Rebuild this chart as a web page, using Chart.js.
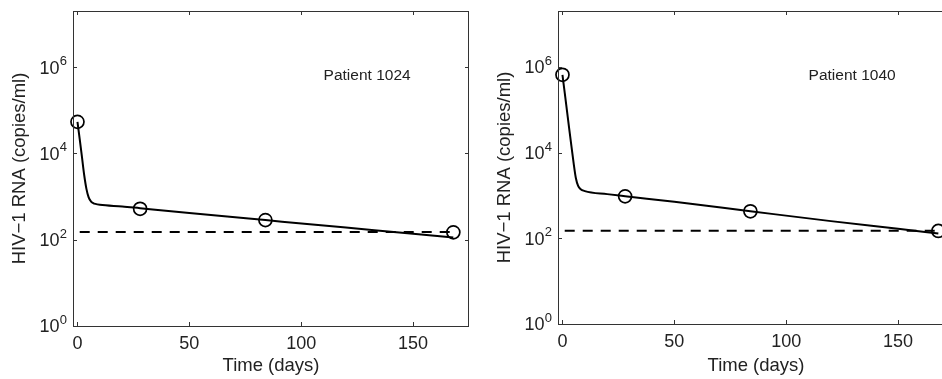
<!DOCTYPE html>
<html>
<head>
<meta charset="utf-8">
<script src="https://cdn.jsdelivr.net/npm/chart.js@4.4.1/dist/chart.umd.min.js"></script>
<style>
  html, body { margin: 0; padding: 0; background: #fff; }
  body { width: 942px; height: 379px; overflow: hidden; position: relative; }
  .panel { position: absolute; top: 0; width: 480px; height: 379px; }
</style>
</head>
<body>
<div class="panel" style="left:0px"><canvas id="chart1024"></canvas></div>
<div class="panel" style="left:485px"><canvas id="chart1040"></canvas></div>
<script>
// model fit curves (copies/ml)
const fitDays = [0, 1, 2, 3, 4, 5, 6, 7, 8, 10, 20, 28, 50, 84, 120, 150, 168];
const fit1024 = [54000, 21400, 8300, 3160, 1510, 955, 776, 708, 676, 646, 589, 537, 417, 285, 191, 138, 112];
const fit1040 = [646000, 251000, 95500, 36300, 14100, 5600, 2510, 1660, 1410, 1260, 1070, 955, 708, 427, 251, 166, 129];

// measured viral loads
const obsDays = [0, 28, 84, 168];
const obs1024 = [54000, 520, 285, 148];
const obs1040 = [650000, 950, 425, 148];

// detection limit (dashed line)
const limitDays = [1, 167];
const limitValue = 150;

const xTickValues = [0, 50, 100, 150];
const yTickValues = [1, 100, 10000, 1000000];
const yTickExp = ['0', '2', '4', '6'];

const FONT = '"Liberation Sans", Arial, Helvetica, sans-serif';

// MATLAB-like box, inside ticks, 10^n labels, y title and patient tag
const boxPlugin = {
  id: 'box',
  afterDraw(chart, args, opts) {
    const ctx = chart.ctx;
    const a = chart.chartArea;
    const x = chart.scales.x, y = chart.scales.y;
    ctx.save();
    ctx.strokeStyle = '#333';
    ctx.lineWidth = 1;
    ctx.strokeRect(a.left + 0.5, a.top + 0.5, a.right - a.left - 1, a.bottom - a.top);

    ctx.beginPath();
    xTickValues.forEach(function (v) {
      const px = Math.round(x.getPixelForValue(v)) + 0.5;
      ctx.moveTo(px, a.bottom); ctx.lineTo(px, a.bottom - 4);
      ctx.moveTo(px, a.top); ctx.lineTo(px, a.top + 4);
    });
    yTickValues.forEach(function (v) {
      const py = Math.round(y.getPixelForValue(v)) + 0.5;
      ctx.moveTo(a.left, py); ctx.lineTo(a.left + 4, py);
      ctx.moveTo(a.right, py); ctx.lineTo(a.right - 4, py);
    });
    ctx.stroke();

    ctx.fillStyle = '#222';
    yTickValues.forEach(function (v, i) {
      const py = y.getPixelForValue(v);
      ctx.font = '18px ' + FONT;
      ctx.textAlign = 'right';
      ctx.textBaseline = 'middle';
      ctx.fillText('10', a.left - 13.5, py + 1.5);
      ctx.font = '13px ' + FONT;
      ctx.textAlign = 'left';
      ctx.textBaseline = 'alphabetic';
      ctx.fillText(yTickExp[i], a.left - 13.3, py - 2);
    });

    ctx.save();
    ctx.translate(20, (a.top + a.bottom) / 2);
    ctx.rotate(-Math.PI / 2);
    ctx.font = '18.5px ' + FONT;
    ctx.textAlign = 'center';
    ctx.textBaseline = 'middle';
    ctx.fillText('HIV\u22121 RNA (copies/ml)', 0, 0);
    ctx.restore();

    ctx.font = '15.5px ' + FONT;
    ctx.textAlign = 'left';
    ctx.textBaseline = 'middle';
    ctx.fillText(opts.label, x.getPixelForValue(110), y.getPixelForValue(Math.pow(10, 5.8)));
    ctx.restore();
  }
};

function toPoints(xs, ys) {
  return xs.map(function (d, i) { return { x: d, y: ys[i] }; });
}

function makeChart(canvasId, fit, obs, label, xAxisHeight) {
  const ctx = document.getElementById(canvasId).getContext('2d');
  return new Chart(ctx, {
    type: 'line',
    data: {
      datasets: [
        {
          data: toPoints(limitDays, [limitValue, limitValue]),
          borderColor: '#000',
          borderWidth: 2,
          borderDash: [10, 8],
          pointRadius: 0
        },
        {
          data: toPoints(fitDays, fit),
          borderColor: '#000',
          borderWidth: 2,
          cubicInterpolationMode: 'monotone',
          pointRadius: 0
        },
        {
          data: toPoints(obsDays, obs),
          showLine: false,
          pointRadius: 6.5,
          pointBorderWidth: 1.7,
          pointBorderColor: '#000',
          pointBackgroundColor: 'rgba(0,0,0,0)',
          clip: false
        }
      ]
    },
    options: {
      responsive: true,
      maintainAspectRatio: false,
      animation: false,
      events: [],
      layout: { padding: { top: 11, right: 11, left: 0, bottom: 0 } },
      plugins: {
        legend: { display: false },
        tooltip: { enabled: false },
        box: { label: label }
      },
      scales: {
        x: {
          type: 'linear',
          min: -2,
          max: 175,
          afterBuildTicks: function (scale) {
            scale.ticks = xTickValues.map(function (v) { return { value: v }; });
          },
          afterFit: function (scale) { scale.height = xAxisHeight; },
          grid: { display: false, drawTicks: false },
          border: { display: false },
          ticks: {
            padding: 7,
            color: '#222',
            font: { family: FONT, size: 18 },
            maxRotation: 0
          },
          title: {
            display: true,
            text: 'Time (days)',
            color: '#222',
            font: { family: FONT, size: 18.5 },
            padding: { top: 0, bottom: 2 }
          }
        },
        y: {
          type: 'logarithmic',
          min: 1,
          max: 2e7,
          afterFit: function (scale) { scale.width = 73; },
          grid: { display: false, drawTicks: false },
          border: { display: false },
          ticks: { display: false }
        }
      }
    },
    plugins: [boxPlugin]
  });
}

makeChart('chart1024', fit1024, obs1024, 'Patient 1024', 53);
makeChart('chart1040', fit1040, obs1040, 'Patient 1040', 55);
</script>
</body>
</html>
